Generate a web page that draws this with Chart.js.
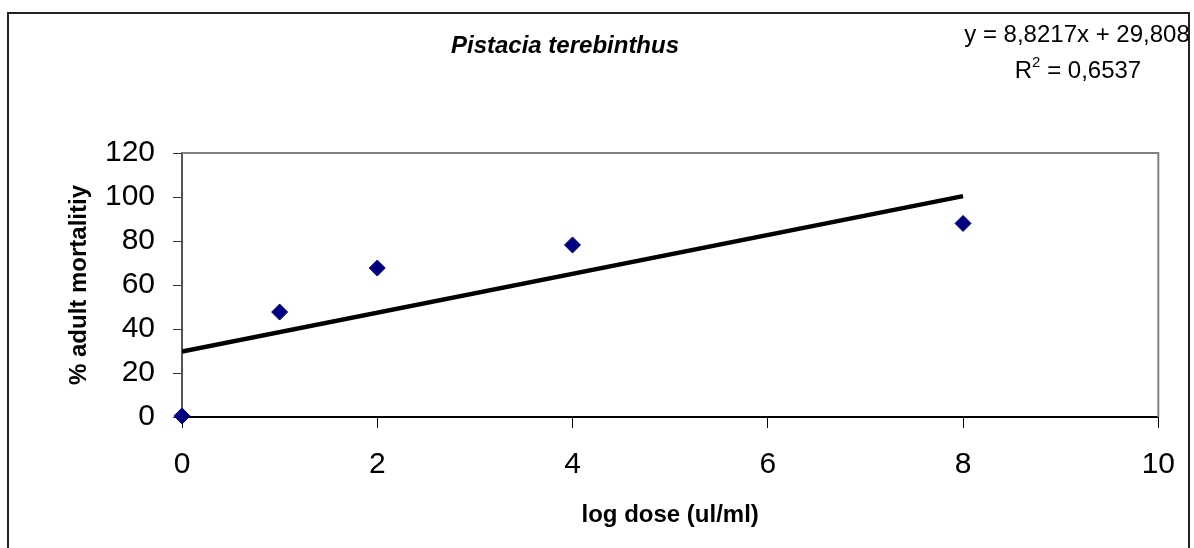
<!DOCTYPE html>
<html lang="en">
<head>
  <meta charset="UTF-8" />
  <title>Pistacia terebinthus</title>
  <script src="https://cdn.jsdelivr.net/npm/chart.js"></script>
  <style>
    body {
      margin: 0;
      background: #fff;
    }
    #wrap {
      width: 1194px;
      height: 548px;
    }
  </style>
</head>
<body>
  <div id="wrap">
    <canvas id="grafica" width="1194" height="548"></canvas>
  </div>

  <script>
    // datos
    const doses = [0, 1, 2, 4, 8];
    const mortality = [0.5, 47.7, 67.7, 78.2, 88];
    const trendX = [0, 8];
    const trendY = [29.8, 100.4];
    const xTicks = [0, 2, 4, 6, 8, 10];
    const yTicks = [0, 20, 40, 60, 80, 100, 120];

    const chartTitle = 'Pistacia terebinthus';
    const eqLine1 = 'y = 8,8217x + 29,808';
    const eqLine2 = '= 0,6537';

    const font = 'Liberation Sans, Arial, sans-serif';

    // marco exterior, borde del área de trazado y textos sueltos
    const extras = {
      id: 'extras',
      beforeDatasetsDraw(chart) {
        const { ctx, chartArea: a } = chart;
        ctx.save();
        ctx.strokeStyle = '#808080';
        ctx.lineWidth = 2;
        ctx.beginPath();
        ctx.moveTo(a.left, a.top);
        ctx.lineTo(a.right, a.top);
        ctx.lineTo(a.right, a.bottom);
        ctx.stroke();
        ctx.restore();
      },
      afterDraw(chart) {
        const { ctx } = chart;
        ctx.save();
        ctx.strokeStyle = '#222';
        ctx.lineWidth = 2;
        ctx.strokeRect(8, 13, 1181, 545);

        ctx.fillStyle = '#000';
        ctx.textBaseline = 'alphabetic';
        ctx.textAlign = 'center';
        ctx.font = 'italic bold 24px ' + font;
        ctx.fillText(chartTitle, 565, 53);

        ctx.font = '24px ' + font;
        ctx.fillText(eqLine1, 1077, 42);

        // R² con superíndice
        const wR = ctx.measureText('R').width;
        ctx.font = '15px ' + font;
        const w2 = ctx.measureText('2').width;
        ctx.font = '24px ' + font;
        const wRest = ctx.measureText(' ' + eqLine2).width;
        let x = 1078 - (wR + w2 + wRest) / 2;
        ctx.textAlign = 'left';
        ctx.fillText('R', x, 78);
        x += wR;
        ctx.font = '15px ' + font;
        ctx.fillText('2', x, 67);
        x += w2;
        ctx.font = '24px ' + font;
        ctx.fillText(' ' + eqLine2, x, 78);
        ctx.restore();
      }
    };

    const ctx = document.getElementById('grafica').getContext('2d');
    new Chart(ctx, {
      type: 'scatter',
      data: {
        datasets: [
          {
            label: 'mortality',
            data: doses.map((d, i) => ({ x: d, y: mortality[i] })),
            backgroundColor: '#000080',
            borderColor: '#000080',
            pointStyle: 'rectRot',
            pointRadius: 8,
            pointHoverRadius: 8,
            clip: false
          },
          {
            label: 'trend',
            data: trendX.map((d, i) => ({ x: d, y: trendY[i] })),
            showLine: true,
            borderColor: '#000',
            borderWidth: 4.5,
            pointRadius: 0,
            fill: false
          }
        ]
      },
      options: {
        responsive: false,
        animation: false,
        layout: { padding: { left: 0, right: 34, top: 153, bottom: 0 } },
        plugins: {
          legend: { display: false },
          tooltip: { enabled: false }
        },
        scales: {
          x: {
            type: 'linear',
            min: 0,
            max: 10,
            afterBuildTicks(axis) { axis.ticks = xTicks.map(v => ({ value: v })); },
            afterFit(axis) { axis.height = 131; },
            border: { color: '#000', width: 2 },
            grid: { drawOnChartArea: false, tickLength: 11, color: '#000', tickWidth: 1 },
            ticks: { color: '#000', padding: 19, font: { family: font, size: 30 } },
            title: {
              display: true,
              text: 'log dose (ul/ml)',
              color: '#000',
              font: { family: font, size: 24, weight: 'bold' },
              padding: { top: 0, bottom: 18 }
            }
          },
          y: {
            min: 0,
            max: 120,
            afterBuildTicks(axis) { axis.ticks = yTicks.map(v => ({ value: v })); },
            afterFit(axis) { axis.width = 182; },
            border: { color: '#555', width: 2 },
            grid: { drawOnChartArea: false, tickLength: 9, color: '#333', tickWidth: 1 },
            ticks: { color: '#000', padding: 18, font: { family: font, size: 30 } },
            title: {
              display: true,
              text: '% adult mortalitiy',
              color: '#000',
              font: { family: font, size: 24, weight: 'bold' },
              padding: { top: 65, bottom: 0 }
            }
          }
        }
      },
      plugins: [extras]
    });
  </script>
</body>
</html>
